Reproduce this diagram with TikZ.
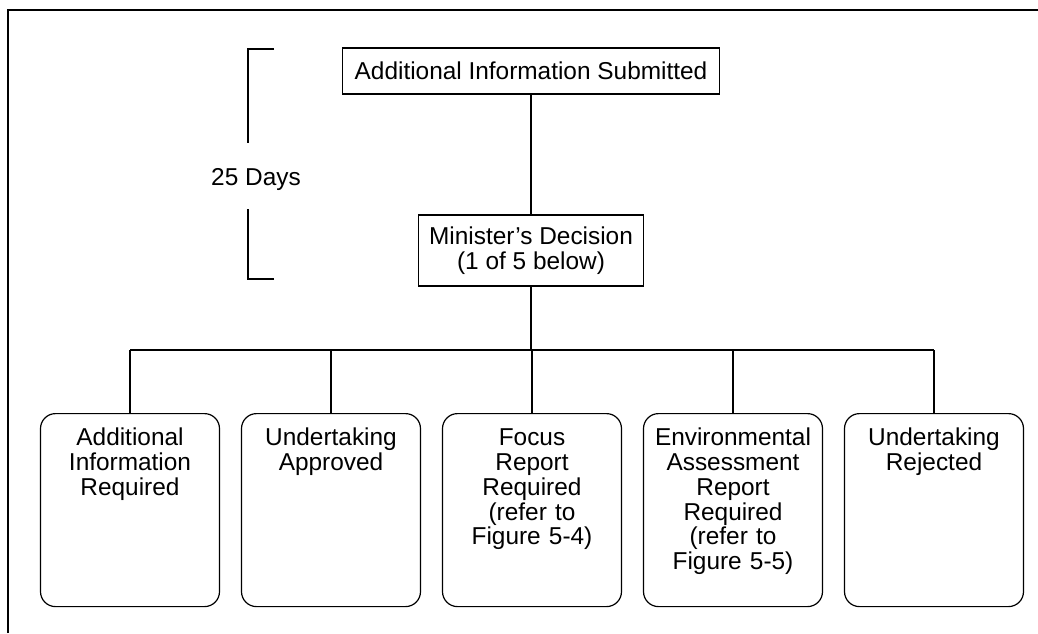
\documentclass[tikz,border=0pt]{standalone}
\usepackage{fontspec}
\setmainfont{Liberation Sans}
\usepackage{tikz}
\usetikzlibrary{positioning, calc}

\begin{document}
\begin{tikzpicture}[x=0.5pt, y=-0.5pt, line width=0.6pt, font=\fontsize{12.2}{12.4}\selectfont]
        \tikzstyle{plainbox}=[draw, rectangle, inner sep=0pt, align=center]
        \tikzstyle{outcome}=[draw, rectangle, rounded corners=7.5pt, inner xsep=0pt, inner ysep=0pt,
            text width=89.5pt, minimum width=89.5pt, align=center, text height=16pt, text depth=80.5pt, anchor=north]

        \useasboundingbox (0,0) rectangle (1038,633);

        % Frame
        \draw (8,633) -- (8,10) -- (1038,10);

        % Submission and decision
        \node[plainbox, minimum width=188.5pt, minimum height=23pt] (sub) at (531,71) {Additional Information Submitted};
        \node[plainbox, minimum width=112.5pt, minimum height=35.5pt] (dec) at (531,250.5) {Minister's Decision\\(1 of 5 below)};

        % Time bracket
        \node (days) at (256,180) {25 Days};
        \coordinate (brtop) at (274,49);
        \coordinate (brbot) at (274,279);
        \coordinate (brup) at (248,143);
        \coordinate (brdown) at (248,209);
        \draw (brtop) -| (brup);
        \draw (brbot) -| (brdown);

        % Outcomes
        \node[outcome] (o1) at (130,413) {Additional\\Information\\Required};
        \node[outcome] (o2) at (331,413) {Undertaking\\Approved};
        \node[outcome] (o3) at (532,413) {Focus\\Report\\Required\\(refer to\\Figure 5-4)};
        \node[outcome] (o4) at (733,413) {Environmental\\Assessment\\Report\\Required\\(refer to\\Figure 5-5)};
        \node[outcome] (o5) at (934,413) {Undertaking\\Rejected};

        % Connectors
        \coordinate (bus) at (531,350);
        \draw (sub) -- (dec);
        \draw (dec.south) -- (dec.south |- bus);
        \draw (o1.north |- bus) -- (o5.north |- bus);
        \foreach \n in {o1,o2,o3,o4,o5}
            \draw (\n.north |- bus) -- (\n.north);
    \end{tikzpicture}
\end{document}
